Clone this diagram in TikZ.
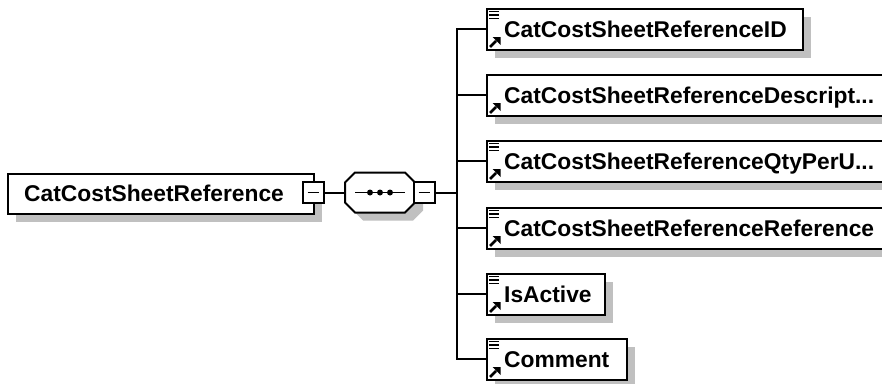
\documentclass[tikz,border=0pt]{standalone}
\usepackage{fontspec}
\setmainfont{Liberation Sans}
\usetikzlibrary{calc,shadows}
\definecolor{shadowgray}{RGB}{192,192,192}
\newcommand\eqicon[1]{%
  \foreach \d in {4,7.5,11}{\draw[line width=1.6pt] ([xshift=3pt,yshift=-\d pt]#1.north west) -- ++(10,0);}}
\newcommand\refarrow[1]{%
  \draw[line width=2.6pt] ([xshift=4pt,yshift=3.5pt]#1.south west) -- ++(6,-6);
  \fill ([xshift=14.5pt,yshift=13.5pt]#1.south west) -- ++(0,8) -- ++(-8,-8) -- cycle;}
\begin{document}
\begin{tikzpicture}[x=1pt,y=-1pt,
  shadowed/.style={drop shadow={shadow xshift=8pt,shadow yshift=-8pt,opacity=1,fill=shadowgray}},
  elbox/.style={draw=black,line width=2pt,fill=white,inner sep=0pt,anchor=north west,shadowed},
  eltext/.style={anchor=west,inner sep=0pt,font=\fontsize{22.8}{24}\selectfont\bfseries,text height=16.3pt,text depth=0pt},
  minusbox/.style={draw=black,line width=2pt,fill=white,minimum size=21pt,inner sep=0pt},
  conn/.style={line width=2pt,black}]
\useasboundingbox (0,0) rectangle (882,383);
\fill[white] (0,0) rectangle (882,383);

% root element
\node[elbox,minimum width=306pt,minimum height=40pt] (root) at (7,172.5) {};
\node[eltext] (troot) at ([xshift=17pt]root.west) {CatCostSheetReference};
\node[minusbox] (rootsq) at (313,192.5) {};
\draw[line width=1.8pt] ([xshift=-5.5pt]rootsq.center) -- ([xshift=5.5pt]rootsq.center);

% sequence compositor
\node[inner sep=0pt,minimum width=70pt,minimum height=40pt] (seq) at (380,192.5) {};
\fill[shadowgray,shift={(8,8)}] (345,182.5) -- (355,172.5) -- (405,172.5) -- (415,182.5) -- (415,202.5) -- (405,212.5) -- (355,212.5) -- (345,202.5) -- cycle;
\draw[line width=2pt,fill=white] (345,182.5) -- (355,172.5) -- (405,172.5) -- (415,182.5) -- (415,202.5) -- (405,212.5) -- (355,212.5) -- (345,202.5) -- cycle;
\draw[line width=1.8pt] (355,192.5) -- (405,192.5);
\foreach \xx in {370,380,390}{\fill (\xx,192.5) circle (3);}
\node[minusbox] (seqsq) at (424,192.5) {};
\draw[line width=1.8pt] ([xshift=-5.5pt]seqsq.center) -- ([xshift=5.5pt]seqsq.center);

\draw[conn] (rootsq.east) -- (seq.west);

% children boxes
\node[elbox,minimum width=316pt,minimum height=41pt] (c1) at (486,7.5) {};
\node[elbox,minimum width=410pt,minimum height=41pt] (c2) at (486,73.5) {};
\node[elbox,minimum width=410pt,minimum height=41pt] (c3) at (486,139.5) {};
\node[elbox,minimum width=410pt,minimum height=41pt] (c4) at (486,206.5) {};
\node[elbox,minimum width=118pt,minimum height=41pt] (c5) at (486,272.5) {};
\node[elbox,minimum width=140pt,minimum height=41pt] (c6) at (486,337.5) {};

\foreach \c in {c1,c2,c3,c4,c5,c6}{\draw[conn] (seqsq.east) -- ++(21,0) |- (\c.west);}

\node[eltext] (t1) at ([xshift=18pt]c1.west) {CatCostSheetReferenceID};
\node[eltext] (t2) at ([xshift=18pt]c2.west) {CatCostSheetReferenceDescript...};
\node[eltext] (t3) at ([xshift=18pt]c3.west) {CatCostSheetReferenceQtyPerU...};
\node[eltext] (t4) at ([xshift=18pt]c4.west) {CatCostSheetReferenceReference};
\node[eltext] (t5) at ([xshift=18pt]c5.west) {IsActive};
\node[eltext] (t6) at ([xshift=18pt]c6.west) {Comment};

\eqicon{c1}\eqicon{c3}\eqicon{c4}\eqicon{c5}\eqicon{c6}
\refarrow{c1}\refarrow{c2}\refarrow{c3}\refarrow{c4}\refarrow{c5}\refarrow{c6}
\end{tikzpicture}
\end{document}
